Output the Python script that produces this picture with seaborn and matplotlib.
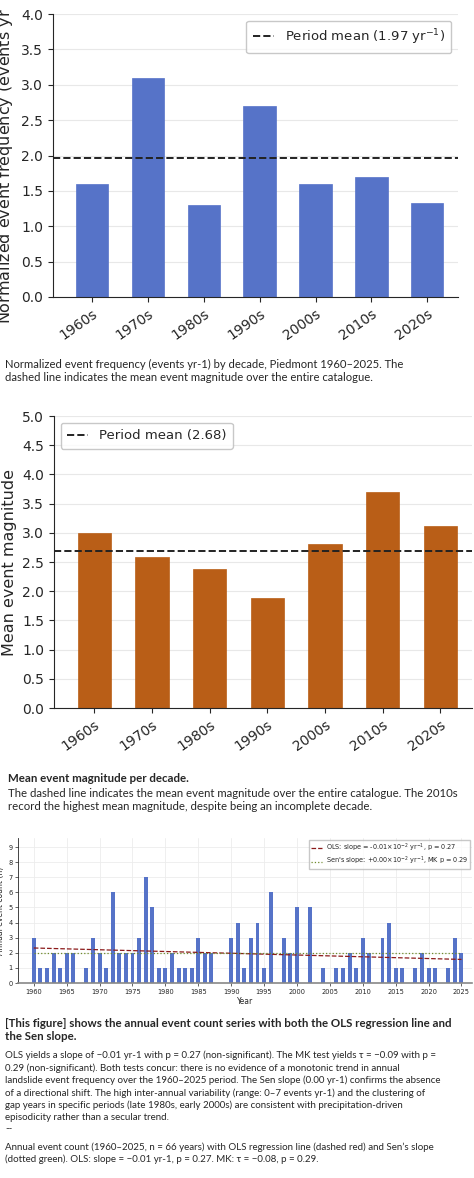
import numpy as np
import pandas as pd
import seaborn as sns
import matplotlib.pyplot as plt

# decade data
decades = ["1960s", "1970s", "1980s", "1990s", "2000s", "2010s", "2020s"]
freq = [1.6, 3.1, 1.3, 2.7, 1.6, 1.7, 1.33]
freq_mean = 1.97
magnitude = [3.0, 2.58, 2.38, 1.88, 2.8, 3.7, 3.12]
mag_mean = 2.68

# annual counts 1960-2025
years = list(range(1960, 2026))
counts = [3, 1, 1, 2, 1, 2, 2, 0, 1, 3,
          2, 1, 6, 2, 2, 2, 3, 7, 5, 1,
          1, 2, 1, 1, 1, 3, 2, 2, 0, 0,
          3, 4, 1, 3, 4, 1, 6, 0, 3, 2,
          5, 0, 5, 0, 1, 0, 1, 1, 2, 1,
          3, 2, 0, 3, 4, 1, 1, 0, 1, 2,
          1, 1, 0, 1, 3, 2]

blue = "#5673c8"
orange = "#b95e17"
cap_font = ["Lato", "DejaVu Sans"]

sns.set_style("white")
plt.rcParams["font.family"] = ["DejaVu Sans"]

W, H = 474, 1178
fig = plt.figure(figsize=(W / 100, H / 100), dpi=100)


def box(x0, y0, x1, y1):
    return [x0 / W, 1 - y1 / H, (x1 - x0) / W, (y1 - y0) / H]


def decade_panel(ax, vals, mean, color, ylim, ylabel, label, loc):
    df = pd.DataFrame({"decade": decades, "value": vals})
    sns.barplot(data=df, x="decade", y="value", color=color, width=0.58,
                saturation=1, edgecolor=color, linewidth=0.5, ax=ax, zorder=2)
    ax.axhline(mean, color="#222222", ls="--", lw=1.4, label=label, zorder=3)
    ax.set_ylim(*ylim)
    ax.set_xlim(-0.7, 6.55)
    ax.set_yticks(np.arange(0, ylim[1] + 0.01, 0.5))
    ax.yaxis.grid(True, color="#e8e8e8", lw=0.8, zorder=0)
    ax.set_axisbelow(True)
    ax.set_xlabel("")
    ax.set_ylabel(ylabel, fontsize=11.5, labelpad=4)
    ax.tick_params(axis="both", labelsize=10, direction="out", length=3.5,
                   left=True, bottom=True, width=0.8)
    plt.setp(ax.get_xticklabels(), rotation=35, ha="right", rotation_mode="anchor")
    ax.legend(loc=loc, fontsize=9.5, frameon=True, edgecolor="#bbbbbb",
              fancybox=True, handlelength=1.6, borderpad=0.5)
    sns.despine(ax=ax)


# panel 1
ax1 = fig.add_axes(box(53, 14, 458, 297))
decade_panel(ax1, freq, freq_mean, blue, (0, 4.0),
             "Normalized event frequency (events yr$^{-1}$)",
             "Period mean (1.97 yr$^{-1}$)", "upper right")

fig.text(5 / W, 1 - 371 / H,
         "Normalized event frequency (events yr-1) by decade, Piedmont 1960\u20132025. The\n"
         "dashed line indicates the mean event magnitude over the entire catalogue.",
         family=cap_font, fontsize=8.15, va="center", linespacing=1.3)

# panel 2
ax2 = fig.add_axes(box(54, 416, 472, 708))
decade_panel(ax2, magnitude, mag_mean, orange, (0, 5.0),
             "Mean event magnitude", "Period mean (2.68)", "upper left")

fig.text(8 / W, 1 - 778 / H, "Mean event magnitude per decade.",
         family=cap_font, fontsize=8.3, fontweight="bold", va="center")
fig.text(8 / W, 1 - 800 / H,
         "The dashed line indicates the mean event magnitude over the entire catalogue. The 2010s\n"
         "record the highest mean magnitude, despite being an incomplete decade.",
         family=cap_font, fontsize=8.2, va="center", linespacing=1.3)

# panel 3
ax3 = fig.add_axes(box(18, 838, 472, 983))
ann = pd.DataFrame({"year": years, "count": counts})
sns.barplot(data=ann, x="year", y="count", native_scale=True, color=blue,
            saturation=1, width=0.6, linewidth=0, ax=ax3, zorder=2)
yr = np.array(years, dtype=float)
ct = np.array(counts, dtype=float)
slope, icept = np.polyfit(yr, ct, 1)
sns.lineplot(x=yr, y=slope * yr + icept, color="#8b1a1a", ls="--", lw=0.9,
             ax=ax3, zorder=3,
             label="OLS: slope = -0.01\u00d710$^{-2}$ yr$^{-1}$, p = 0.27")
sns.lineplot(x=yr, y=np.full_like(yr, np.median(ct)), color="#6e8b2a", ls=":",
             lw=0.9, ax=ax3, zorder=3,
             label="Sen's slope: +0.00\u00d710$^{-2}$ yr$^{-1}$, MK p = 0.29")
ax3.set_xlim(1957.6, 2026.6)
ax3.set_ylim(0, 9.6)
ax3.set_yticks(range(0, 10))
ax3.set_xticks(range(1960, 2026, 5))
ax3.grid(True, color="#ececec", lw=0.6, zorder=0)
ax3.set_axisbelow(True)
ax3.tick_params(labelsize=4.8, length=2, width=0.5, pad=2, left=True, bottom=True)
ax3.set_xlabel("Year", fontsize=5.5, labelpad=2)
ax3.set_ylabel("Annual event count (n)", fontsize=5.5, labelpad=2)
ax3.spines["bottom"].set_color("#888888")
ax3.spines["bottom"].set_linewidth(1.2)
ax3.spines["left"].set_linewidth(0.6)
sns.despine(ax=ax3)
ax3.legend(loc="upper right", fontsize=4.7, frameon=True, edgecolor="#bbbbbb",
           fancybox=False, handlelength=1.6, handletextpad=0.6, borderpad=0.3,
           labelspacing=0.15, borderaxespad=0.3)

fig.text(5 / W, 1 - 1030 / H,
         "[This figure] shows the annual event count series with both the OLS regression line and\n"
         "the Sen slope.",
         family=cap_font, fontsize=8.3, fontweight="bold", va="center", linespacing=1.25)
fig.text(5 / W, 1 - 1092 / H,
         "OLS yields a slope of \u22120.01 yr-1 with p = 0.27 (non-significant). The MK test yields \u03c4 = \u22120.09 with p =\n"
         "0.29 (non-significant). Both tests concur: there is no evidence of a monotonic trend in annual\n"
         "landslide event frequency over the 1960\u20132025 period. The Sen slope (0.00 yr-1) confirms the absence\n"
         "of a directional shift. The high inter-annual variability (range: 0\u20137 events yr-1) and the clustering of\n"
         "gap years in specific periods (late 1980s, early 2000s) are consistent with precipitation-driven\n"
         "episodicity rather than a secular trend.\n"
         "--",
         family=cap_font, fontsize=7.0, va="center", linespacing=1.38)
fig.text(5 / W, 1 - 1153 / H,
         "Annual event count (1960\u20132025, n = 66 years) with OLS regression line (dashed red) and Sen\u2019s slope\n"
         "(dotted green). OLS: slope = \u22120.01 yr-1, p = 0.27. MK: \u03c4 = \u22120.08, p = 0.29.",
         family=cap_font, fontsize=7.0, va="center", linespacing=1.38)

fig.savefig("out.png", dpi=100)
